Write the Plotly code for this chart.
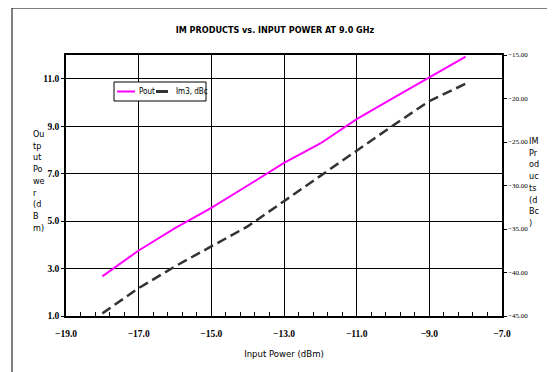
import plotly.graph_objects as go

# ---- data ----
input_power = [-18, -17, -16, -15, -14, -13, -12, -11, -10, -9, -8]
pout = [2.67, 3.76, 4.70, 5.56, 6.50, 7.45, 8.27, 9.30, 10.18, 11.05, 11.93]
im3_dbc = [-44.7, -41.8, -39.3, -37.0, -34.7, -31.8, -28.9, -25.9, -23.1, -20.3, -18.3]
series_names = ["Pout", "Im3, dBc"]
title_text = "IM PRODUCTS vs. INPUT POWER AT 9.0 GHz"
x_title = "Input Power (dBm)"
y_title_lines = ["Ou", "tp", "ut", "Po", "we", "r", "(d", "B", "m)"]
y2_title_lines = ["IM", "Pr", "od", "uc", "ts", "(d", "Bc", ")"]

NARROW = "Liberation Sans Narrow, Arial Narrow, DejaVu Sans Condensed, Arial"
SERIF = "Liberation Serif, Times New Roman, serif"

fig = go.Figure()
fig.add_trace(go.Scatter(x=input_power, y=pout, mode="lines", name=series_names[0],
                         line=dict(color="#FF00FF", width=2), showlegend=False))
fig.add_trace(go.Scatter(x=input_power, y=im3_dbc, mode="lines", name=series_names[1],
                         yaxis="y2", line=dict(color="#333333", width=2.5, dash="10px,5px"),
                         showlegend=False))

# page offset (body margin of the html page)
OX, OY = 8, 8
W, H = 555 - OX, 372 - OY
# plot area in page pixels
PL, PR, PT, PB = 66, 502, 55, 316
L, R, T, B = PL - OX, (W + OX) - PR, PT - OY, (H + OY) - PB
pw, ph = PR - PL, PB - PT


def px(x):
    return (x - PL) / pw


def py(y):
    return (PB - y) / ph


fig.update_layout(
    width=W, height=H,
    margin=dict(l=L, r=R, t=T, b=B, pad=0, autoexpand=False),
    paper_bgcolor="white", plot_bgcolor="white",
    title=dict(text="<b>" + title_text + "</b>", x=(275 - OX) / W, xanchor="center",
               y=1 - (30 - OY) / H, yanchor="middle",
               font=dict(family=NARROW, size=9, color="black")),
    xaxis=dict(range=[-19, -7], tick0=-19, dtick=2, tickformat=".1f",
               showgrid=True, gridcolor="#000000", gridwidth=1,
               showline=True, linecolor="black", linewidth=1.5, mirror=True,
               ticks="inside", ticklen=4, tickcolor="black",
               minor=dict(dtick=0.4, tick0=-19, ticks="inside", ticklen=4,
                          tickcolor="black", showgrid=False),
               ticklabelstandoff=8,
               tickfont=dict(family=SERIF, size=9.5, color="black", weight="bold"),
               title=dict(text=x_title, standoff=12,
                          font=dict(family=NARROW, size=9.5, color="black")),
               zeroline=False),
    yaxis=dict(range=[1, 12], tick0=1, dtick=2, tickformat=".1f",
               showgrid=True, gridcolor="#000000", gridwidth=1,
               showline=True, linecolor="black", linewidth=1.5,
               ticks="outside", ticklen=3, tickcolor="black",
               tickfont=dict(family=SERIF, size=9.5, color="black", weight="bold"),
               zeroline=False),
    yaxis2=dict(range=[-45, -15], dtick=5, tickformat=".2f", overlaying="y", side="right",
                showgrid=False, showline=True, linecolor="black", linewidth=1.5,
                ticks="outside", ticklen=3, tickcolor="black",
                tickfont=dict(family=SERIF, size=7, color="black"),
                zeroline=False),
    showlegend=False,
)

shapes = []
# outer chart border
shapes.append(dict(type="rect", xref="paper", yref="paper",
                   x0=px(12), x1=px(600), y0=py(8), y1=py(420),
                   line=dict(color="black", width=1), fillcolor="rgba(0,0,0,0)", layer="above"))
# legend box
shapes.append(dict(type="rect", xref="paper", yref="paper",
                   x0=px(114), x1=px(206), y0=py(101), y1=py(82),
                   line=dict(color="black", width=1), fillcolor="white", layer="above"))
ly = py(91.5)
shapes.append(dict(type="line", xref="paper", yref="paper",
                   x0=px(117), x1=px(135), y0=ly, y1=ly,
                   line=dict(color="#FF00FF", width=2), layer="above"))
shapes.append(dict(type="line", xref="paper", yref="paper",
                   x0=px(156), x1=px(168), y0=ly, y1=ly,
                   line=dict(color="#333333", width=3), layer="above"))
fig.update_layout(shapes=shapes)

annotations = [
    dict(text=series_names[0], xref="paper", yref="paper", x=px(137), y=ly,
         xanchor="left", yanchor="middle", showarrow=False,
         font=dict(family=NARROW, size=8, color="black")),
    dict(text=series_names[1], xref="paper", yref="paper", x=px(174), y=ly,
         xanchor="left", yanchor="middle", showarrow=False,
         font=dict(family=NARROW, size=8, color="black")),
    dict(text="<br>".join(y_title_lines), xref="paper", yref="paper", x=px(31), y=py(181),
         xanchor="left", yanchor="middle", align="left", showarrow=False,
         font=dict(family=NARROW, size=9, color="black")),
    dict(text="<br>".join(y2_title_lines), xref="paper", yref="paper", x=px(527), y=py(181.5),
         xanchor="left", yanchor="middle", align="left", showarrow=False,
         font=dict(family=NARROW, size=9, color="black")),
]
fig.update_layout(annotations=annotations)

fig.write_html("out.html")
